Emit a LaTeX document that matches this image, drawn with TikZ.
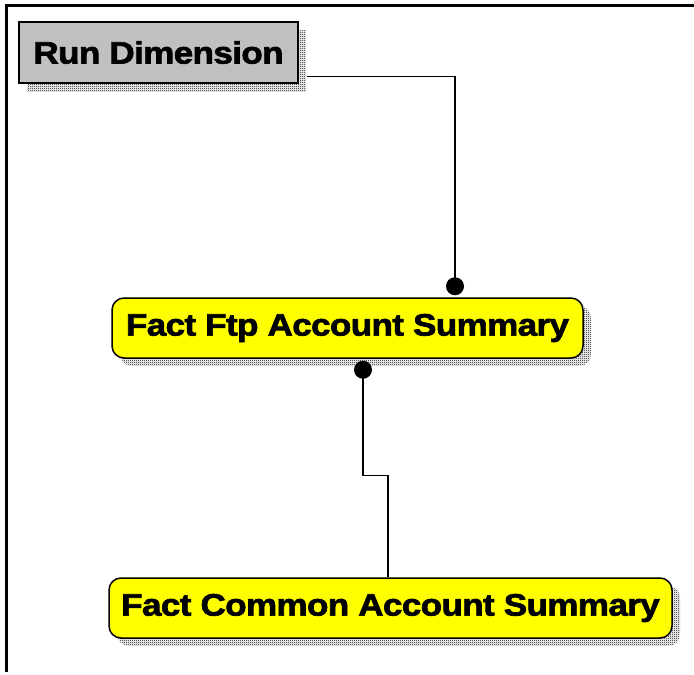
\documentclass[tikz,border=0pt]{standalone}
\usepackage{fontspec}
\newfontfamily\erdfont[FakeStretch=1.13,FakeBold=2.2,LetterSpace=-2]{Liberation Sans}
\usepackage{tikz}
\usetikzlibrary{calc,patterns,shadows}
\definecolor{dimgray}{RGB}{192,192,192}
\definecolor{factyellow}{RGB}{255,255,0}
\pgfdeclarepatternformonly{shadowdots}{\pgfpointorigin}{\pgfqpoint{2pt}{2pt}}{\pgfqpoint{2pt}{2pt}}{%
  \pgfpathrectangle{\pgfpointorigin}{\pgfqpoint{1pt}{1pt}}%
  \pgfpathrectangle{\pgfqpoint{1pt}{1pt}}{\pgfqpoint{1pt}{1pt}}%
  \pgfusepath{fill}}

\begin{document}
\begin{tikzpicture}[x=1pt,y=-1pt,
  entity/.style={draw=black,line width=1.5pt,minimum height=60pt,inner sep=0pt,
    font=\erdfont\bfseries\fontsize{31}{31}\selectfont,
    general shadow={shadow xshift=8pt,shadow yshift=-8pt,pattern=shadowdots}},
  dimbox/.style={entity,fill=dimgray,minimum height=61pt},
  factbox/.style={entity,fill=factyellow,rounded corners=12pt},
  link/.style={line width=1.3pt},
  knob/.style={fill=black}]
\useasboundingbox (0,0) rectangle (694,675);
\draw[line width=3pt] (6.5,672) -- (6.5,5.5) -- (694,5.5);

\node[dimbox,minimum width=279pt] (run) at (158.5,52.5) {Run Dimension};
\node[factbox,minimum width=471pt] (ftp) at (347.5,328) {Fact Ftp Account Summary};
\node[factbox,minimum width=563pt] (common) at (390.5,608) {Fact Common Account Summary};

\coordinate (runout) at ([xshift=8pt,yshift=-24pt]run.east);
\coordinate (ftpin) at ([xshift=107.5pt,yshift=11pt]ftp.north);
\coordinate (ftpout) at ([xshift=15.5pt,yshift=-11pt]ftp.south);
\coordinate (bend) at ($(ftpout)+(0,106)$);

\draw[link] (runout) -| (ftpin);
\draw[link] (ftpout) -- (bend) -| ([xshift=-2.5pt]common.north);
\fill[knob] (ftpin) circle (9);
\fill[knob] (ftpout) circle (9);
\end{tikzpicture}
\end{document}
